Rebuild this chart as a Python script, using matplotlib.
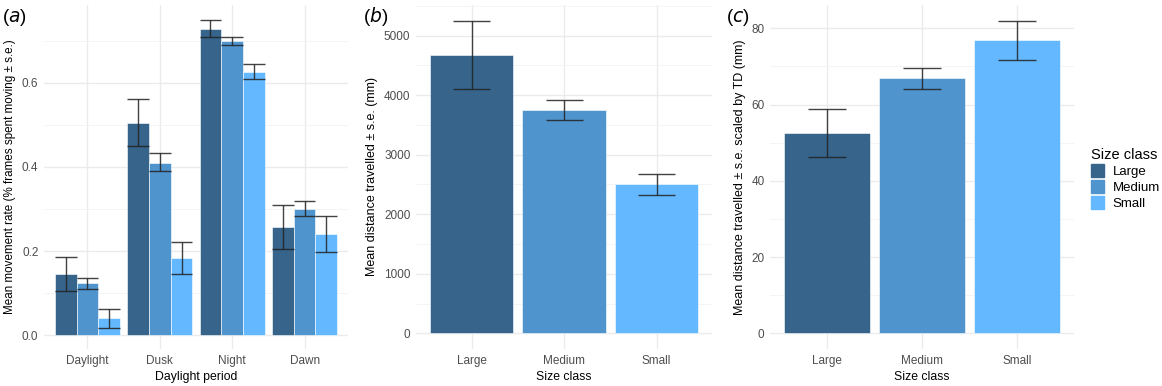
import numpy as np
import matplotlib.pyplot as plt
from matplotlib.ticker import MultipleLocator

plt.rcParams['font.family'] = ['Liberation Sans', 'DejaVu Sans']

# Data
periods = ['Daylight', 'Dusk', 'Night', 'Dawn']
sizes = ['Large', 'Medium', 'Small']
colors = ['#36648B', '#4F94CD', '#63B8FF']

# panel (a): movement rate per period (rows) x size (cols)
rate_mean = [[0.145, 0.123, 0.040],
             [0.505, 0.410, 0.183],
             [0.728, 0.700, 0.625],
             [0.258, 0.300, 0.240]]
rate_lo = [[0.105, 0.110, 0.017],
           [0.450, 0.390, 0.145],
           [0.710, 0.690, 0.608],
           [0.205, 0.283, 0.198]]
rate_hi = [[0.185, 0.137, 0.063],
           [0.562, 0.433, 0.222],
           [0.750, 0.710, 0.645],
           [0.310, 0.318, 0.284]]

# panel (b): distance travelled
dist_mean = [4680, 3750, 2500]
dist_lo = [4110, 3580, 2330]
dist_hi = [5250, 3910, 2680]

# panel (c): distance scaled by TD
td_mean = [52.6, 67.0, 76.9]
td_lo = [46.3, 64.2, 71.6]
td_hi = [58.9, 69.7, 82.0]

W, H = 1162, 386
fig = plt.figure(figsize=(W / 100, H / 100), dpi=100)

def px_axes(x0, x1, y0=5, y1=349):
    return fig.add_axes([x0 / W, 1 - y1 / H, (x1 - x0) / W, (y1 - y0) / H])

tick_col = '#4D4D4D'
grid_col = '#EBEBEB'
err_col = '#222222'

def style(ax):
    for s in ax.spines.values():
        s.set_visible(False)
    ax.tick_params(which='both', length=0, labelsize=8.5, colors=tick_col, pad=4)
    ax.set_axisbelow(True)
    ax.grid(True, which='major', color=grid_col, lw=1.0)
    ax.grid(True, which='minor', axis='y', color='#F3F3F3', lw=0.6)

def errbars(ax, x, lo, hi, capw):
    x = np.asarray(x)
    ax.vlines(x, lo, hi, color=err_col, lw=1.0, alpha=0.85, zorder=3)
    ax.hlines(lo, x - capw / 2, x + capw / 2, color=err_col, lw=1.0, alpha=0.85, zorder=3)
    ax.hlines(hi, x - capw / 2, x + capw / 2, color=err_col, lw=1.0, alpha=0.85, zorder=3)

# (a)
ax1 = px_axes(44, 348)
style(ax1)
xp = np.arange(1, len(periods) + 1)
bw = 0.3
rm = np.array(rate_mean); rl = np.array(rate_lo); rh = np.array(rate_hi)
for j, s in enumerate(sizes):
    xs = xp + (j - 1) * bw
    ax1.bar(xs, rm[:, j], width=bw, color=colors[j], edgecolor='white', lw=0.4, zorder=2)
    errbars(ax1, xs, rl[:, j], rh[:, j], bw)
ax1.set_xlim(0.4, len(periods) + 0.6)
ax1.set_ylim(-0.033, 0.785)
ax1.set_xticks(xp)
ax1.set_xticklabels(periods)
ax1.yaxis.set_major_locator(MultipleLocator(0.2))
ax1.yaxis.set_minor_locator(MultipleLocator(0.1))
ax1.yaxis.set_major_formatter(lambda v, p: f'{v:.1f}')
ax1.set_xlabel('Daylight period', fontsize=8.8, labelpad=3)
ax1.set_ylabel('Mean movement rate (% frames spent moving ± s.e.)', fontsize=8.4, labelpad=4)

# (b)
ax2 = px_axes(416, 712)
style(ax2)
xs = np.arange(1, len(sizes) + 1)
ax2.bar(xs, dist_mean, width=0.9, color=colors, edgecolor='white', lw=0.4, zorder=2)
errbars(ax2, xs, dist_lo, dist_hi, 0.4)
ax2.set_xlim(0.4, 3.6)
ax2.set_ylim(-262, 5512)
ax2.set_xticks(xs)
ax2.set_xticklabels(sizes)
ax2.yaxis.set_major_locator(MultipleLocator(1000))
ax2.yaxis.set_minor_locator(MultipleLocator(500))
ax2.set_xlabel('Size class', fontsize=8.8, labelpad=3)
ax2.set_ylabel('Mean distance travelled ± s.e. (mm)', fontsize=9.0, labelpad=4)

# (c)
ax3 = px_axes(770, 1074)
style(ax3)
ax3.bar(xs, td_mean, width=0.9, color=colors, edgecolor='white', lw=0.4, zorder=2)
errbars(ax3, xs, td_lo, td_hi, 0.4)
ax3.set_xlim(0.4, 3.6)
ax3.set_ylim(-4.1, 86.1)
ax3.set_xticks(xs)
ax3.set_xticklabels(sizes)
ax3.yaxis.set_major_locator(MultipleLocator(20))
ax3.yaxis.set_minor_locator(MultipleLocator(10))
ax3.set_xlabel('Size class', fontsize=8.8, labelpad=3)
ax3.set_ylabel('Mean distance travelled ± s.e. scaled by TD (mm)', fontsize=9.0, labelpad=4)

handles = [plt.Rectangle((0, 0), 1, 1, color=c) for c in colors]
leg = fig.legend(handles, sizes, title='Size class', loc='upper left',
                 bbox_to_anchor=(1086 / W, 1 - 143 / H), frameon=False,
                 fontsize=9.5, title_fontsize=10.5, handlelength=1.0, handleheight=1.1,
                 handletextpad=0.6, labelspacing=0.15, borderaxespad=0)
leg._legend_box.align = 'left'

for lab, x in [('a', 2), ('b', 363), ('c', 726)]:
    fig.text(x / W, 1 - 17 / H, '($\\it{' + lab + '}$)', fontsize=13.5, va='center', ha='left')

fig.savefig('out.png', dpi=100)
